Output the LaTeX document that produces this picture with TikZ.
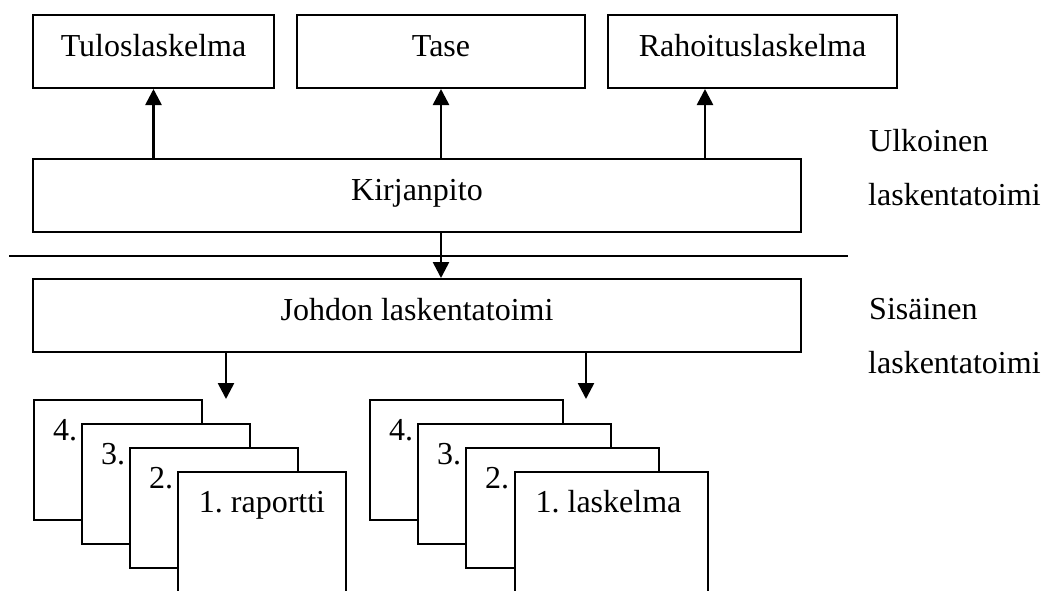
\documentclass[tikz,border=0pt]{standalone}
\usepackage{fontspec}
\setmainfont{Liberation Serif}
\usetikzlibrary{arrows.meta,calc}
\frenchspacing

\tikzset{
  txt/.style={font=\fontsize{32}{38}\selectfont, inner sep=0pt},
  box/.style={txt, draw, line width=2pt, fill=white,
    text height=22pt, text depth=13pt, minimum height=73pt},
  sheet/.style={draw, line width=2pt, fill=white, anchor=north west,
    minimum height=120pt, inner sep=0pt},
  tallsheet/.style={sheet, minimum height=130pt},
  arr/.style={line width=2.6pt, -{Triangle[width=16pt,length=16pt]}},
  rule/.style={line width=2pt}
}

\begin{document}
\begin{tikzpicture}[x=1pt,y=-1pt]
\useasboundingbox (0,0) rectangle (1044,590);

% financial statements
\node[box, minimum width=241pt] (tulos) at (153.5,51.5) {Tuloslaskelma};
\node[box, minimum width=288pt] (tase)  at (441,51.5)  {Tase};
\node[box, minimum width=289pt] (raho)  at (752.5,51.5) {Rahoituslaskelma};

% bookkeeping and management accounting
\node[box, minimum width=768pt] (kirj) at (417,195.5) {Kirjanpito};
\node[box, minimum width=768pt] (joh)  at (417,315.5) {Johdon laskentatoimi};

% divider between external and internal accounting
\coordinate (divL) at (9,256);
\coordinate (divR) at (848,256);
\draw[rule] (divL) -- (divR);

% side labels
\node[txt, anchor=base west] (ulk)  at (869,151) {Ulkoinen};
\node[txt, anchor=base west] (ulk2) at (868,205) {laskentatoimi};
\node[txt, anchor=base west] (sis)  at (869,319) {Sisäinen};
\node[txt, anchor=base west] (sis2) at (868,373) {laskentatoimi};

% arrows from bookkeeping to the statements
\coordinate (rx) at (705,0);
\draw[arr] (kirj.north -| tulos.south) -- (tulos.south);
\draw[arr] (kirj.north -| tase.south) -- (tase.south);
\draw[arr] (kirj.north -| rx) -- (raho.south -| rx);
\draw[arr] (kirj.south -| tase.south) -- (joh.north -| tase.south);

% left stack of reports
\node[sheet, minimum width=168pt] (r4) at (33,399) {};
\node[txt, anchor=base west] (r4t) at ($(r4.north west)+(20,41)$) {4.};
\node[sheet, minimum width=168pt] (r3) at (81,423) {};
\node[txt, anchor=base west] (r3t) at ($(r3.north west)+(20,41)$) {3.};
\node[sheet, minimum width=168pt] (r2) at (129,447) {};
\node[txt, anchor=base west] (r2t) at ($(r2.north west)+(20,41)$) {2.};
\node[tallsheet, minimum width=168pt] (r1) at (177,471) {};
\node[txt, anchor=base] (r1t) at ($(r1.north)+(0,41)$) {1. raportti};

% right stack of calculations
\node[sheet, minimum width=193pt] (c4) at (369,399) {};
\node[txt, anchor=base west] (c4t) at ($(c4.north west)+(20,41)$) {4.};
\node[sheet, minimum width=193pt] (c3) at (417,423) {};
\node[txt, anchor=base west] (c3t) at ($(c3.north west)+(20,41)$) {3.};
\node[sheet, minimum width=193pt] (c2) at (465,447) {};
\node[txt, anchor=base west] (c2t) at ($(c2.north west)+(20,41)$) {2.};
\node[tallsheet, minimum width=193pt] (c1) at (514,471) {};
\node[txt, anchor=base] (c1t) at ($(c1.north)+(-3,41)$) {1. laskelma};

% arrows from management accounting to the stacks
\coordinate (ax1) at (226,0);
\coordinate (ax2) at (586,0);
\draw[arr] (joh.south -| ax1) -- (r4.north -| ax1);
\draw[arr] (joh.south -| ax2) -- (c4.north -| ax2);
\end{tikzpicture}
\end{document}
